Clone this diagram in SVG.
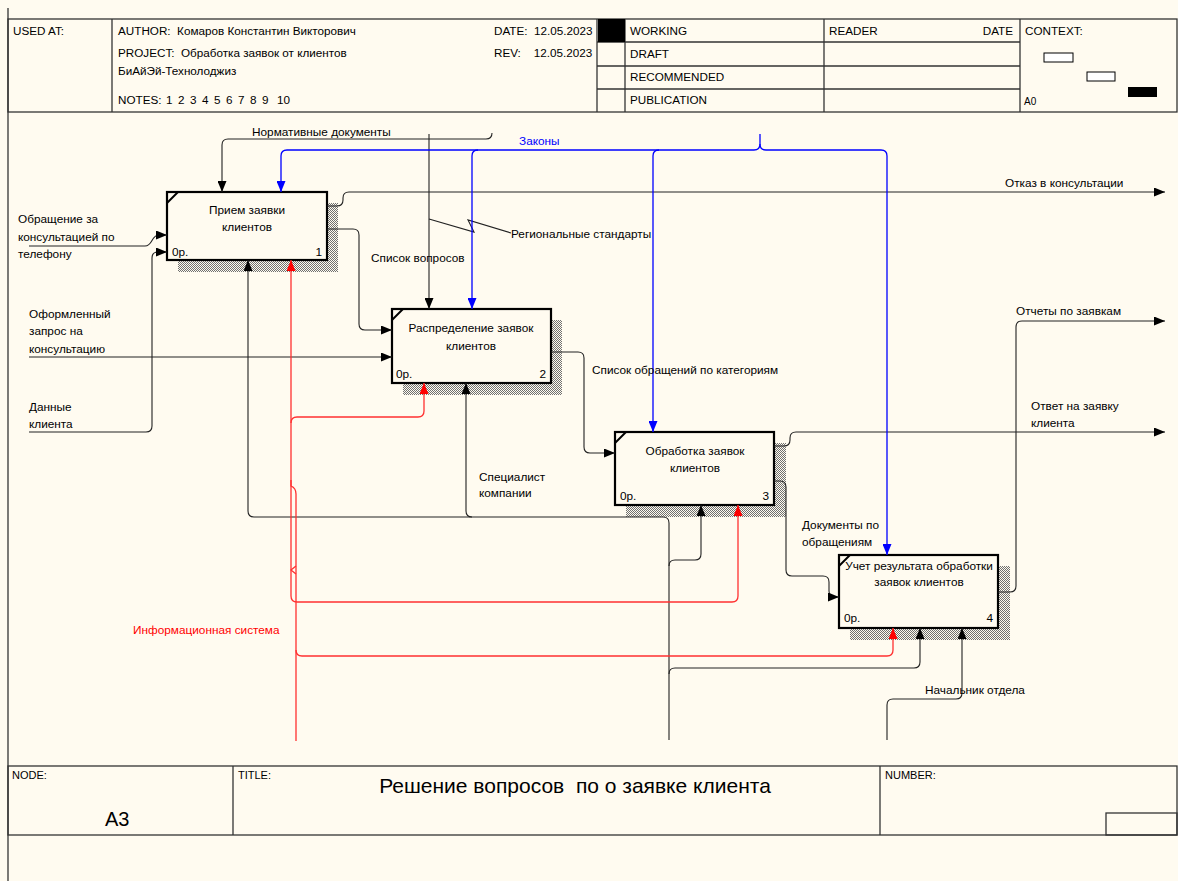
<svg xmlns="http://www.w3.org/2000/svg" width="1178" height="881" viewBox="0 0 1178 881">
<defs>
<style>
text{font-family:"Liberation Sans",Arial,sans-serif;font-size:11.8px;fill:#000}
.hdr{font-size:11.7px}
.small{font-size:11px}
.big{font-size:20px}
.title{font-size:21px}
.ctr{text-anchor:middle}
.end{text-anchor:end}
.frame{fill:none;stroke:#333;stroke-width:1.3}
.box{fill:#FFFBF0;stroke:#000;stroke-width:2.2}
.tick{stroke:#000;stroke-width:2}
.shadow{fill:url(#hatch)}
.c{fill:none;stroke:#222;stroke-width:1.1}
.cb{fill:none;stroke:#0000FF;stroke-width:1.3}
.cr{fill:none;stroke:#FF3030;stroke-width:1.3}
</style>
<pattern id="hatch" width="2" height="2" patternUnits="userSpaceOnUse"><rect width="1" height="1" fill="#707070"/><rect x="1" y="1" width="1" height="1" fill="#707070"/></pattern>
<marker id="ak" markerWidth="11" markerHeight="9" refX="11" refY="4.5" orient="auto" markerUnits="userSpaceOnUse"><path d="M0,0 L11,4.5 L0,9 z" fill="#000"/></marker>
<marker id="abl" markerWidth="11" markerHeight="9" refX="11" refY="4.5" orient="auto" markerUnits="userSpaceOnUse"><path d="M0,0 L11,4.5 L0,9 z" fill="#0000FF"/></marker>
<marker id="ar" markerWidth="11" markerHeight="9" refX="11" refY="4.5" orient="auto" markerUnits="userSpaceOnUse"><path d="M0,0 L11,4.5 L0,9 z" fill="#FF0000"/></marker>
</defs>
<rect x="0" y="0" width="1178" height="881" fill="#FFFBF0"/>

<g id="frame">
<line class="frame" x1="8" y1="8" x2="8" y2="881"/>
<rect class="frame" x="8" y="19" width="1169" height="93"/>
<line class="frame" x1="112" y1="19" x2="112" y2="112"/>
<line class="frame" x1="597" y1="19" x2="597" y2="112"/>
<line class="frame" x1="625" y1="19" x2="625" y2="112"/>
<line class="frame" x1="824" y1="19" x2="824" y2="112"/>
<line class="frame" x1="1020" y1="19" x2="1020" y2="112"/>
<line class="frame" x1="597" y1="42" x2="1020" y2="42"/>
<line class="frame" x1="597" y1="66" x2="1020" y2="66"/>
<line class="frame" x1="597" y1="89" x2="1020" y2="89"/>
<rect x="598" y="19" width="27" height="23" fill="#000"/>
<rect x="1044" y="53" width="29" height="9" fill="#fff" stroke="#000" stroke-width="1"/>
<rect x="1087" y="72" width="28" height="9" fill="#fff" stroke="#000" stroke-width="1"/>
<rect x="1128" y="87" width="29" height="10" fill="#000"/>
<text class="hdr" x="13" y="35">USED AT:</text>
<text class="hdr" x="118" y="35" xml:space="preserve">AUTHOR:  Комаров Константин Викторович</text>
<text class="hdr" x="118" y="57" xml:space="preserve">PROJECT:  Обработка заявок от клиентов</text>
<text class="hdr" x="118" y="75">БиАйЭй-Технолоджиз</text>
<text class="hdr" x="118" y="104">NOTES:<tspan x="166">1</tspan><tspan x="178">2</tspan><tspan x="190">3</tspan><tspan x="202">4</tspan><tspan x="214">5</tspan><tspan x="226">6</tspan><tspan x="238">7</tspan><tspan x="250">8</tspan><tspan x="262">9</tspan><tspan x="277">10</tspan></text>
<text class="hdr" x="494" y="35" xml:space="preserve">DATE:  12.05.2023</text>
<text class="hdr" x="494" y="57" xml:space="preserve">REV:    12.05.2023</text>
<text class="hdr" x="630" y="35">WORKING</text>
<text class="hdr" x="630" y="58">DRAFT</text>
<text class="hdr" x="630" y="81">RECOMMENDED</text>
<text class="hdr" x="630" y="104">PUBLICATION</text>
<text class="hdr" x="829" y="35">READER</text>
<text class="hdr end" x="1013" y="35">DATE</text>
<text class="hdr" x="1025" y="35">CONTEXT:</text>
<text x="1024" y="105" style="font-size:10px">A0</text>
<rect class="frame" x="8" y="766" width="1169" height="69"/>
<line class="frame" x1="233" y1="766" x2="233" y2="835"/>
<line class="frame" x1="880" y1="766" x2="880" y2="835"/>
<rect class="frame" x="1106" y="813" width="71" height="22"/>
<text class="small" x="12" y="779">NODE:</text>
<text class="small" x="238" y="779">TITLE:</text>
<text class="small" x="885" y="779">NUMBER:</text>
<text class="big" x="105" y="826">A3</text>
<text class="title ctr" x="575" y="793" xml:space="preserve">Решение вопросов  по о заявке клиента</text>
</g>

<g id="node1">
<rect class="shadow" x="178" y="203" width="160" height="69"/>
<rect class="box" x="167" y="192" width="160" height="68"/>
<line class="tick" x1="167" y1="203" x2="178" y2="192"/>
<text class="ctr" x="247" y="214">Прием заявки</text>
<text class="ctr" x="247" y="231">клиентов</text>
<text x="172" y="256">0р.</text>
<text class="end" x="322" y="256">1</text>
</g>
<g id="node2">
<rect class="shadow" x="403" y="320" width="159" height="75"/>
<rect class="box" x="392" y="309" width="159" height="74"/>
<line class="tick" x1="392" y1="320" x2="403" y2="309"/>
<text class="ctr" x="471" y="332">Распределение заявок</text>
<text class="ctr" x="471" y="350">клиентов</text>
<text x="396" y="378">0р.</text>
<text class="end" x="546" y="378">2</text>
</g>
<g id="node3">
<rect class="shadow" x="626" y="443" width="160" height="74"/>
<rect class="box" x="615" y="432" width="159" height="73"/>
<line class="tick" x1="615" y1="443" x2="626" y2="432"/>
<text class="ctr" x="695" y="455">Обработка заявок</text>
<text class="ctr" x="695" y="472">клиентов</text>
<text x="620" y="500">0р.</text>
<text class="end" x="769" y="500">3</text>
</g>
<g id="node4">
<rect class="shadow" x="850" y="566" width="160" height="74"/>
<rect class="box" x="839" y="555" width="159" height="73"/>
<line class="tick" x1="839" y1="566" x2="850" y2="555"/>
<text class="ctr" x="919" y="570">Учет результата обработки</text>
<text class="ctr" x="919" y="586">заявок клиентов</text>
<text x="844" y="622">0р.</text>
<text class="end" x="993" y="622">4</text>
</g>

<g id="connectors">
<path class="c" marker-end="url(#ak)" d="M492,133 Q492,139 486,139 H228 Q222,139 222,145 V192"/>
<path class="c" marker-end="url(#ak)" d="M429,134 V309"/>
<path class="c" d="M429,219 L474,232 L468,220 L511,233"/>
<path class="c" marker-end="url(#ak)" d="M327,206 H337 Q343,206 343,200 V198 Q343,192 349,192 H1165"/>
<path class="c" marker-end="url(#ak)" d="M327,229 H353 Q359,229 359,235 V324 Q359,330 365,330 H392"/>
<path class="c" marker-end="url(#ak)" d="M29,246 H145 C153,246 151,235 159,235 H167"/>
<path class="c" marker-end="url(#ak)" d="M29,432 H146 Q152,432 152,426 V258 Q152,252 158,252 H167"/>
<path class="c" marker-end="url(#ak)" d="M29,357 H392"/>
<path class="c" marker-end="url(#ak)" d="M551,352 H578 Q584,352 584,358 V447 Q584,453 590,453 H615"/>
<path class="c" marker-end="url(#ak)" d="M774,446 H784 Q790,446 790,440 V438 Q790,432 796,432 H1165"/>
<path class="c" marker-end="url(#ak)" d="M774,481 H780 Q786,481 786,487 V570 Q786,576 792,576 H823 Q829,576 829,582 V591 Q829,597 835,597 H839"/>
<path class="c" marker-end="url(#ak)" d="M998,592 H1010 Q1016,592 1016,586 V327 Q1016,321 1022,321 H1165"/>
<path class="c" marker-end="url(#ak)" d="M669,740 V523 Q669,517 663,517 H254 Q248,517 248,511 V260"/>
<path class="c" marker-end="url(#ak)" d="M472,517 Q466,517 466,511 V383"/>
<path class="c" marker-end="url(#ak)" d="M669,566 Q669,560 675,560 H695 Q701,560 701,554 V505"/>
<path class="c" marker-end="url(#ak)" d="M669,674 Q669,668 675,668 H914 Q920,668 920,662 V628"/>
<path class="c" marker-end="url(#ak)" d="M887,740 V705 Q887,699 893,699 H956 Q962,699 962,693 V628"/>
<path class="cb" marker-end="url(#abl)" d="M760,134 V144 Q760,150 754,150 H287 Q281,150 281,156 V192"/>
<path class="cb" marker-end="url(#abl)" d="M760,144 Q760,150 766,150 H881 Q887,150 887,156 V555"/>
<path class="cb" marker-end="url(#abl)" d="M478,150 Q472,150 472,156 V309"/>
<path class="cb" marker-end="url(#abl)" d="M659,150 Q653,150 653,156 V432"/>
<path class="cr" marker-end="url(#ar)" d="M296,741 V494 Q296,488 291,486 V260"/>
<path class="cr" marker-end="url(#ar)" d="M291,480 V596 Q291,602 297,602 H732 Q738,602 738,596 V505"/>
<path class="cr" marker-end="url(#ar)" d="M291,423 Q291,417 297,417 H418 Q424,417 424,411 V383"/>
<path class="cr" marker-end="url(#ar)" d="M296,650 Q296,656 302,656 H887 Q893,656 893,650 V628"/>
<path class="cr" d="M296,566 L291,570 L296,574"/>
</g>

<g id="labels">
<text x="252" y="136">Нормативные документы</text>
<text x="519" y="145" style="fill:#0000FF">Законы</text>
<text x="1005" y="187">Отказ в консультации</text>
<text x="511" y="238">Региональные стандарты</text>
<text x="371" y="262">Список вопросов</text>
<text x="18" y="223">Обращение за</text>
<text x="18" y="241">консультацией по</text>
<text x="18" y="258">телефону</text>
<text x="29" y="318">Оформленный</text>
<text x="29" y="335">запрос на</text>
<text x="29" y="353">консультацию</text>
<text x="29" y="411">Данные</text>
<text x="29" y="428">клиента</text>
<text x="1016" y="315">Отчеты по заявкам</text>
<text x="592" y="374">Список обращений по категориям</text>
<text x="1031" y="410">Ответ на заявку</text>
<text x="1031" y="427">клиента</text>
<text x="479" y="481">Специалист</text>
<text x="479" y="497">компании</text>
<text x="802" y="529">Документы по</text>
<text x="802" y="546">обращениям</text>
<text x="133" y="634" style="fill:#FF0000">Информационная система</text>
<text x="925" y="694">Начальник отдела</text>
</g>
</svg>
